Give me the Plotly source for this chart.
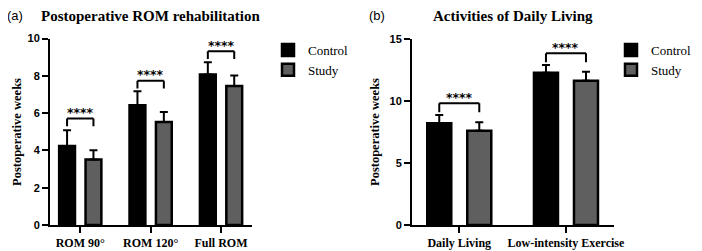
import plotly.graph_objects as go

# ---------------- data ----------------
rom_categories = ["ROM 90°", "ROM 120°", "Full ROM"]
rom_control = [4.24, 6.42, 8.07]
rom_control_sd = [0.84, 0.75, 0.66]
rom_study = [3.51, 5.52, 7.45]
rom_study_sd = [0.50, 0.54, 0.57]
rom_bracket = [5.71, 7.74, 9.32]
rom_sig = ["****", "****", "****"]

adl_categories = ["Daily Living", "Low-intensity Exercise"]
adl_control = [8.21, 12.30]
adl_control_sd = [0.68, 0.62]
adl_study = [7.62, 11.66]
adl_study_sd = [0.68, 0.72]
adl_bracket = [9.83, 13.87]
adl_sig = ["****", "****"]

series_names = ["Control", "Study"]
rom_yticks = [0, 2, 4, 6, 8, 10]
adl_yticks = [0, 5, 10, 15]

# ---------------- style ----------------
PAGE_OFF = 8          # default body margin of the html page
W, H = 720, 251 - PAGE_OFF
BARGAP = 0.25
BARGROUPGAP = 0.4
CTRL_COLOR = "#000000"
STUDY_COLOR = "#5f5f5f"
SERIF = "Liberation Serif, Times New Roman, serif"
SANS = "Liberation Sans, Arial, sans-serif"
STAR_FONT = "DejaVu Sans, sans-serif"


def px_x(p):
    return (p - PAGE_OFF) / W


def px_y(p):
    return 1 - (p - PAGE_OFF) / H


fig = go.Figure()


def add_bars(cats, ctrl, ctrl_sd, study, study_sd, xa, ya, legend):
    for name, vals, sd, col in [
        (series_names[0], ctrl, ctrl_sd, CTRL_COLOR),
        (series_names[1], study, study_sd, STUDY_COLOR),
    ]:
        fig.add_trace(go.Bar(
            x=cats, y=vals, name=name, xaxis=xa, yaxis=ya, legend=legend,
            marker=dict(color=col, line=dict(color="black", width=2.5)),
            error_y=dict(type="data", array=sd, arrayminus=[0] * len(sd),
                         symmetric=False, color="black", thickness=2, width=4),
        ))


add_bars(rom_categories, rom_control, rom_control_sd, rom_study, rom_study_sd, "x", "y", "legend")
add_bars(adl_categories, adl_control, adl_control_sd, adl_study, adl_study_sd, "x2", "y2", "legend2")

off = (1 - BARGAP) / 4
shapes = []
annotations = []


def add_brackets(n, brackets, sigs, xref, yref, leg):
    for i in range(n):
        x0, x1 = i - off, i + off
        yb = brackets[i]
        line = dict(color="black", width=2)
        shapes.append(dict(type="line", xref=xref, yref=yref, x0=x0, x1=x1, y0=yb, y1=yb, line=line))
        shapes.append(dict(type="line", xref=xref, yref=yref, x0=x0, x1=x0, y0=yb, y1=yb - leg, line=line))
        shapes.append(dict(type="line", xref=xref, yref=yref, x0=x1, x1=x1, y0=yb, y1=yb - leg, line=line))
        annotations.append(dict(xref=xref, yref=yref, x=i, y=yb, text=sigs[i], showarrow=False,
                                xanchor="center", yanchor="middle", yshift=6,
                                font=dict(family=STAR_FONT, size=12.5, color="black", weight="bold")))


add_brackets(len(rom_categories), rom_bracket, rom_sig, "x", "y", 0.42)
add_brackets(len(adl_categories), adl_bracket, adl_sig, "x2", "y2", 0.72)


def paper_text(x, y, text, font, angle=0):
    return dict(xref="paper", yref="paper", x=px_x(x), y=px_y(y), text=text, showarrow=False,
                xanchor="center", yanchor="middle", textangle=angle, font=font)


annotations += [
    paper_text(15, 16, "(a)", dict(family=SANS, size=13, color="black")),
    paper_text(151, 16, "Postoperative ROM rehabilitation",
               dict(family=SERIF, size=15, color="black", weight="bold")),
    paper_text(377, 16, "(b)", dict(family=SANS, size=13, color="black")),
    paper_text(513, 16, "Activities of Daily Living",
               dict(family=SERIF, size=15, color="black", weight="bold")),
    paper_text(17, 132, "Postoperative weeks",
               dict(family=SERIF, size=12.5, color="black", weight="bold"), -90),
    paper_text(375, 132, "Postoperative weeks",
               dict(family=SERIF, size=12.5, color="black", weight="bold"), -90),
]

common_x = dict(type="category", showline=True, linewidth=2, linecolor="black", ticks="outside",
                ticklen=6, tickwidth=2, tickcolor="black", showgrid=False, zeroline=False,
                automargin=False,
                tickfont=dict(family=SERIF, size=12, color="black", weight="bold"), fixedrange=True)
common_y = dict(showline=True, linewidth=2, linecolor="black", ticks="outside", ticklen=6,
                tickwidth=2, tickcolor="black", showgrid=False, zeroline=False, automargin=False,
                tickfont=dict(family=SANS, size=11, color="black", weight="bold"), fixedrange=True)

fig.update_layout(
    template="none",
    width=W, height=H, margin=dict(l=0, r=0, t=0, b=0, autoexpand=False),
    paper_bgcolor="white", plot_bgcolor="white",
    barmode="group", bargap=BARGAP, bargroupgap=BARGROUPGAP,
    xaxis=dict(common_x, domain=[px_x(50), px_x(252)], range=[-0.43, 2.44], anchor="y"),
    yaxis=dict(common_y, domain=[px_y(225), px_y(38.5)], range=[0, 10], tickvals=rom_yticks, anchor="x"),
    xaxis2=dict(common_x, domain=[px_x(412), px_x(614)], range=[-0.443, 1.45], anchor="y2"),
    yaxis2=dict(common_y, domain=[px_y(225), px_y(39.3)], range=[0, 15], tickvals=adl_yticks, anchor="x2"),
    legend=dict(x=px_x(268), y=px_y(35), xanchor="left", yanchor="top",
                font=dict(family=SERIF, size=13, color="black"), bgcolor="rgba(0,0,0,0)"),
    legend2=dict(x=px_x(611), y=px_y(35), xanchor="left", yanchor="top",
                 font=dict(family=SERIF, size=13, color="black"), bgcolor="rgba(0,0,0,0)"),
    shapes=shapes, annotations=annotations, showlegend=True,
)

fig.write_html("out.html")
